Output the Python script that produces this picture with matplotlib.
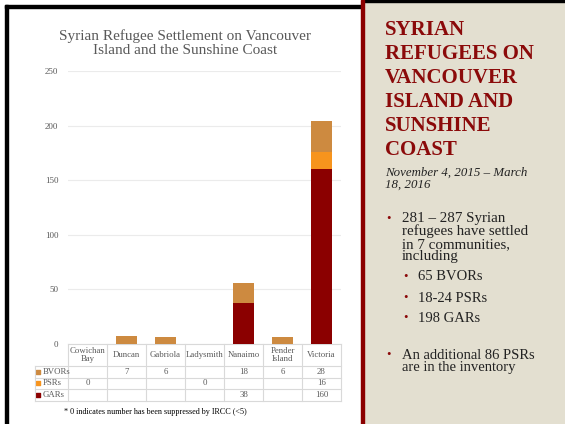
import matplotlib
matplotlib.use("Agg")
import matplotlib.pyplot as plt
from matplotlib.patches import Rectangle
import matplotlib.transforms as mtransforms

# data
places = ["Cowichan\nBay", "Duncan", "Gabriola", "Ladysmith", "Nanaimo", "Pender\nIsland", "Victoria"]
bvors = [None, 7, 6, None, 18, 6, 28]
psrs = [0, None, None, 0, None, None, 16]
gars = [None, None, None, None, 38, None, 160]
series_names = ["BVORs", "PSRs", "GARs"]
series_colors = ["#CD8A40", "#F7941D", "#8B0000"]
yticks = [0, 50, 100, 150, 200, 250]

W, H = 565, 424
fig = plt.figure(figsize=(W / 100, H / 100), dpi=100)

def fx(px):
    return px / W

def fy(py):
    return 1 - py / H

# slide background
fig.patches.append(Rectangle((fx(364), 0), fx(W - 364), 1, transform=fig.transFigure, color="#E3DFD0", zorder=0))
fig.patches.append(Rectangle((fx(364), fy(2)), fx(W - 364), 2 / H, transform=fig.transFigure, color="black", zorder=1))
fig.patches.append(Rectangle((fx(5), fy(8)), fx(356), 3 / H, transform=fig.transFigure, color="black", zorder=1))
fig.patches.append(Rectangle((fx(5), 0), 3 / W, fy(5), transform=fig.transFigure, color="black", zorder=1))
fig.patches.append(Rectangle((fx(361), 0), 3 / W, 1, transform=fig.transFigure, color="#8B0000", zorder=1))

serif = ["Liberation Serif", "DejaVu Serif"]
gray = "#595959"
line_c = "#D9D9D9"
small = 6.3

ax = fig.add_axes([fx(68), fy(344), fx(341 - 68), (344 - 71) / H])
x = list(range(len(places)))
bottom = [0] * len(places)
for vals, col in zip([gars, psrs, bvors], [series_colors[2], series_colors[1], series_colors[0]]):
    v = [0 if a is None else a for a in vals]
    ax.bar(x, v, 0.52, bottom=bottom, color=col, zorder=3)
    bottom = [b + a for b, a in zip(bottom, v)]

ax.set_xlim(-0.5, len(places) - 0.5)
ax.set_ylim(0, 250)
ax.set_yticks(yticks)
ax.set_yticklabels([str(t) for t in yticks], fontsize=6.5, color=gray, family=serif)
ax.tick_params(axis="y", length=0, pad=7)
ax.set_xticks([])
ax.grid(axis="y", color="#EBEBEB", lw=0.8, zorder=0)
for s in ax.spines.values():
    s.set_visible(False)

# data table under the axis
tr = mtransforms.blended_transform_factory(ax.transData, ax.transAxes)
rows_y = [0, -0.0806, -0.123, -0.165, -0.209]
left = -1.35
right = len(places) - 0.5
kw = dict(transform=tr, clip_on=False, color=line_c, lw=0.8)
ax.plot([-0.5, right], [0, 0], **kw)
for yy in rows_y[1:]:
    ax.plot([left, right], [yy, yy], **kw)
for i in range(len(places) + 1):
    ax.plot([i - 0.5, i - 0.5], [0, rows_y[-1]], **kw)
ax.plot([left, left], [rows_y[1], rows_y[-1]], **kw)

for i, p in enumerate(places):
    ax.text(i, (rows_y[0] + rows_y[1]) / 2, p, transform=tr, ha="center", va="center",
            fontsize=small, color=gray, family=serif, linespacing=1.0)

table_vals = [bvors, psrs, gars]
for r, (vals, name, col) in enumerate(zip(table_vals, series_names, series_colors)):
    yc = (rows_y[r + 1] + rows_y[r + 2]) / 2
    ax.scatter([-1.28], [yc], marker="s", s=10, color=col, transform=tr, clip_on=False)
    ax.text(-1.16, yc, name, transform=tr, ha="left", va="center", fontsize=small, color=gray, family=serif)
    for i, v in enumerate(vals):
        if v is not None:
            ax.text(i, yc, str(v), transform=tr, ha="center", va="center", fontsize=small, color=gray, family=serif)

fig.text(fx(155), fy(412), "* 0 indicates number has been suppressed by IRCC (<5)", ha="center", va="center",
         fontsize=5.9, color="black", family=serif)

fig.text(fx(185), fy(43.5), "Syrian Refugee Settlement on Vancouver\nIsland and the Sunshine Coast", ha="center",
         va="center", fontsize=11, color=gray, family=serif, linespacing=1.1)

# right panel text
red = "#8B0A0A"
fig.text(fx(385), fy(20), "SYRIAN\nREFUGEES ON\nVANCOUVER\nISLAND AND\nSUNSHINE\nCOAST", ha="left", va="top",
         fontsize=15, fontweight="bold", color=red, family=serif, linespacing=1.27)
fig.text(fx(385), fy(167), "November 4, 2015 \u2013 March\n18, 2016", ha="left", va="top",
         fontsize=9.3, style="italic", color="#222222", family=serif, linespacing=0.95)

txt = "#222222"
fig.text(fx(386), fy(219), "\u2022", ha="left", va="center", fontsize=9, color=red, family=serif)
fig.text(fx(402), fy(212), "281 \u2013 287 Syrian\nrefugees have settled\nin 7 communities,\nincluding", ha="left",
         va="top", fontsize=10.8, color=txt, family=serif, linespacing=0.95)
for yy, s in zip([277, 298, 318], ["65 BVORs", "18-24 PSRs", "198 GARs"]):
    fig.text(fx(403), fy(yy), "\u2022", ha="left", va="center", fontsize=9, color=red, family=serif)
    fig.text(fx(418), fy(yy), s, ha="left", va="center", fontsize=10.5, color=txt, family=serif)
fig.text(fx(386), fy(355), "\u2022", ha="left", va="center", fontsize=9, color=red, family=serif)
fig.text(fx(402), fy(349), "An additional 86 PSRs\nare in the inventory", ha="left", va="top",
         fontsize=10.5, color=txt, family=serif, linespacing=0.95)

fig.savefig("out.png", dpi=100)
